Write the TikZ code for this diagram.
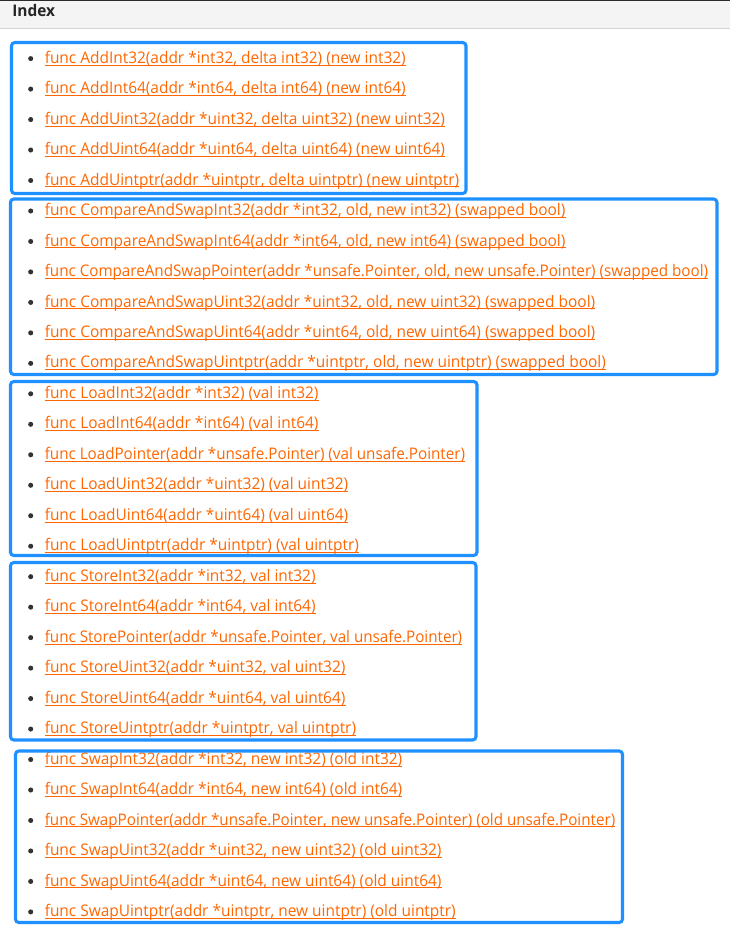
\documentclass[tikz,border=0pt]{standalone}
\usepackage{fontspec}
\setmainfont[FakeStretch=0.965]{Open Sans}
\newfontfamily\ptrfont[FakeStretch=0.95]{Open Sans}
\definecolor{linkc}{RGB}{255,102,0}
\definecolor{boxc}{RGB}{30,144,255}
\definecolor{hdrbg}{RGB}{244,244,244}
\definecolor{hdrtop}{RGB}{43,43,43}
\definecolor{hdrbot}{RGB}{214,214,214}
\definecolor{bulc}{RGB}{51,51,51}
\begin{document}
\begin{tikzpicture}[x=0.75pt,y=-0.75pt,
  lnk/.style={inner sep=0pt,anchor=base west,text=linkc,font=\fontsize{12pt}{14pt}\selectfont},
  ulc/.style={draw=linkc,line width=0.75pt},
  bul/.style={circle,fill=bulc,inner sep=0pt,minimum size=3.8pt},
  bbox/.style={draw=boxc,line width=2.3pt,rounded corners=2.5pt},
  hdr/.style={inner sep=0pt,anchor=base west,text=black!85,font=\fontsize{12pt}{14pt}\selectfont\bfseries}]
\useasboundingbox (0,0) rectangle (730,929);
% header
\fill[hdrbg] (0,0) rectangle (730,28.5);
\draw[hdrtop,line width=1.1pt] (0,0.6) -- (730,0.6);
\draw[hdrbot,line width=1pt] (0,28.5) -- (730,28.5);
\node[hdr] (index) at (12,16.5) {Index};
% items
\foreach \t [count=\n from 0] in {
{func AddInt32(addr *int32, delta int32) (new int32)},
{func AddInt64(addr *int64, delta int64) (new int64)},
{func AddUint32(addr *uint32, delta uint32) (new uint32)},
{func AddUint64(addr *uint64, delta uint64) (new uint64)},
{func AddUintptr(addr *uintptr, delta uintptr) (new uintptr)},
{func CompareAndSwapInt32(addr *int32, old, new int32) (swapped bool)},
{func CompareAndSwapInt64(addr *int64, old, new int64) (swapped bool)},
{\ptrfont func CompareAndSwapPointer(addr *unsafe.Pointer, old, new unsafe.Pointer) (swapped bool)},
{func CompareAndSwapUint32(addr *uint32, old, new uint32) (swapped bool)},
{func CompareAndSwapUint64(addr *uint64, old, new uint64) (swapped bool)},
{func CompareAndSwapUintptr(addr *uintptr, old, new uintptr) (swapped bool)},
{func LoadInt32(addr *int32) (val int32)},
{func LoadInt64(addr *int64) (val int64)},
{\ptrfont func LoadPointer(addr *unsafe.Pointer) (val unsafe.Pointer)},
{func LoadUint32(addr *uint32) (val uint32)},
{func LoadUint64(addr *uint64) (val uint64)},
{func LoadUintptr(addr *uintptr) (val uintptr)},
{func StoreInt32(addr *int32, val int32)},
{func StoreInt64(addr *int64, val int64)},
{\ptrfont func StorePointer(addr *unsafe.Pointer, val unsafe.Pointer)},
{func StoreUint32(addr *uint32, val uint32)},
{func StoreUint64(addr *uint64, val uint64)},
{func StoreUintptr(addr *uintptr, val uintptr)},
{func SwapInt32(addr *int32, new int32) (old int32)},
{func SwapInt64(addr *int64, new int64) (old int64)},
{\ptrfont func SwapPointer(addr *unsafe.Pointer, new unsafe.Pointer) (old unsafe.Pointer)},
{func SwapUint32(addr *uint32, new uint32) (old uint32)},
{func SwapUint64(addr *uint64, new uint64) (old uint64)},
{func SwapUintptr(addr *uintptr, new uintptr) (old uintptr)}}
{
  \pgfmathsetmacro{\yb}{63.2+30.475*\n}
  \node[bul] (b\n) at (30.7,\yb-4.6) {};
  \node[lnk] (t\n) at (44.5,\yb) {\t};
  \draw[ulc] ([yshift=-1.4pt]t\n.base west) -- ([yshift=-1.4pt]t\n.base east);
}
% group boxes
\draw[bbox] (11.5,42.5) rectangle (466,193.5);
\draw[bbox] (10.5,199) rectangle (717,374.5);
\draw[bbox] (10.5,381.5) rectangle (477,555.5);
\draw[bbox] (10.5,562.5) rectangle (476,740);
\draw[bbox] (15.5,751) rectangle (622.5,922.5);
\end{tikzpicture}
\end{document}
